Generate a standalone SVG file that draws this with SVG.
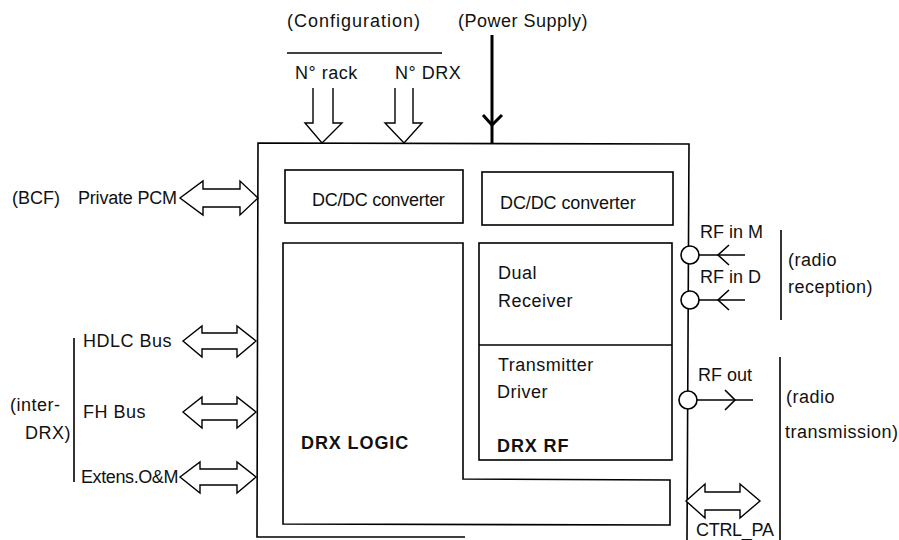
<svg xmlns="http://www.w3.org/2000/svg" width="899" height="540" viewBox="0 0 899 540">
<style>
text{font-family:"Liberation Sans",Arial,sans-serif;font-size:18px;letter-spacing:0.5px;fill:#111}
.b{font-weight:bold;font-size:18px;letter-spacing:0.9px}
.ln{fill:none;stroke:#000;stroke-width:1.6}
.ar{fill:#fff;stroke:#000;stroke-width:1.4;stroke-linejoin:miter}
.c{fill:#fff;stroke:#000;stroke-width:1.6}
</style>
<rect width="899" height="540" fill="#fff"/>
<g id="drx">
<path class="ln" d="M465,537 L257,537 L258,143 L689,144 L687,540"/>
</g>
<g id="dcdc1">
<rect class="ln" x="285" y="170" width="178" height="53"/>
<text x="312" y="206" style="letter-spacing:-0.3px">DC/DC converter</text>
</g>
<g id="dcdc2">
<rect class="ln" x="482" y="172" width="191" height="53"/>
<text x="500" y="209" style="letter-spacing:-0.1px">DC/DC converter</text>
</g>
<g id="drx-logic">
<path class="ln" d="M283,243 L463,243 L463,479 L670,480 L670,525 L283,524 Z"/>
<text class="b" x="301" y="449">DRX LOGIC</text>
</g>
<g id="drx-rf">
<rect class="ln" x="479" y="243" width="193" height="217"/>
<line class="ln" x1="479" y1="345" x2="672" y2="345"/>
<text x="498" y="279">Dual</text>
<text x="498" y="307">Receiver</text>
<text x="498" y="371">Transmitter</text>
<text x="497" y="398">Driver</text>
<text class="b" x="497" y="452">DRX RF</text>
</g>
<g id="labels">
<text x="287" y="27" style="letter-spacing:1px">(Configuration)</text>
<text x="458" y="27">(Power Supply)</text>
<text x="295" y="79">N° rack</text>
<text x="395" y="79">N° DRX</text>
<text x="12" y="204" style="letter-spacing:0">(BCF)</text>
<text x="78" y="204" style="letter-spacing:-0.2px">Private PCM</text>
<text x="83" y="347">HDLC Bus</text>
<text x="83" y="418">FH Bus</text>
<text x="81" y="483" style="letter-spacing:-0.4px">Extens.O&amp;M</text>
<text x="10" y="411">(inter-</text>
<text x="25" y="439">DRX)</text>
<text x="700" y="238" style="letter-spacing:0">RF in M</text>
<text x="700" y="283" style="letter-spacing:0">RF in D</text>
<text x="698" y="381" style="letter-spacing:0">RF out</text>
<text x="788" y="266">(radio</text>
<text x="788" y="293">reception)</text>
<text x="786" y="403">(radio</text>
<text x="785" y="438">transmission)</text>
<text x="696" y="536" style="letter-spacing:-0.3px">CTRL_PA</text>
</g>
<g id="connectors">
<line class="ln" x1="287" y1="53" x2="442" y2="53"/>
<line class="ln" x1="74" y1="338" x2="74" y2="482"/>
<line class="ln" x1="781" y1="230" x2="781" y2="320"/>
<line class="ln" x1="780" y1="357" x2="780" y2="540"/>
<path class="ar" d="M313,88 L313,123 L305,123 L322,143 L342,123 L333,123 L333,88"/>
<path class="ar" d="M395,88 L395,123 L385,123 L404,143 L422,123 L413,123 L413,88"/>
<line x1="492" y1="35" x2="492" y2="144" stroke="#000" stroke-width="3"/>
<path d="M483,115 L492,125 L502,115" fill="none" stroke="#000" stroke-width="3"/>
<polygon class="ar" points="180,198 203,181 203,189 240,189 240,181 258,198 240,215 240,207 203,207 203,215"/>
<polygon class="ar" points="183,341 202,326 202,333 237,333 237,326 256,341 237,357 237,349 202,349 202,357"/>
<polygon class="ar" points="183,412 202,397 202,404 237,404 237,397 256,412 237,428 237,420 202,420 202,428"/>
<polygon class="ar" points="180,477 200,462 200,469 237,469 237,462 256,477 237,493 237,485 200,485 200,493"/>
<polygon class="ar" points="686,501 705,484 705,492 740,492 740,484 760,501 740,518 740,510 705,510 705,518"/>
<line class="ln" x1="699" y1="255" x2="745" y2="255"/>
<path class="ln" d="M729,245 L718,255 L729,265"/>
<line class="ln" x1="699" y1="300" x2="745" y2="300"/>
<path class="ln" d="M729,290 L718,300 L729,310"/>
<line class="ln" x1="697" y1="400" x2="753" y2="400"/>
<path class="ln" d="M725,390 L735,400 L725,410"/>
<circle class="c" cx="690" cy="255" r="9"/>
<circle class="c" cx="690" cy="300" r="9"/>
<circle class="c" cx="688" cy="400" r="9"/>
</g>
</svg>
